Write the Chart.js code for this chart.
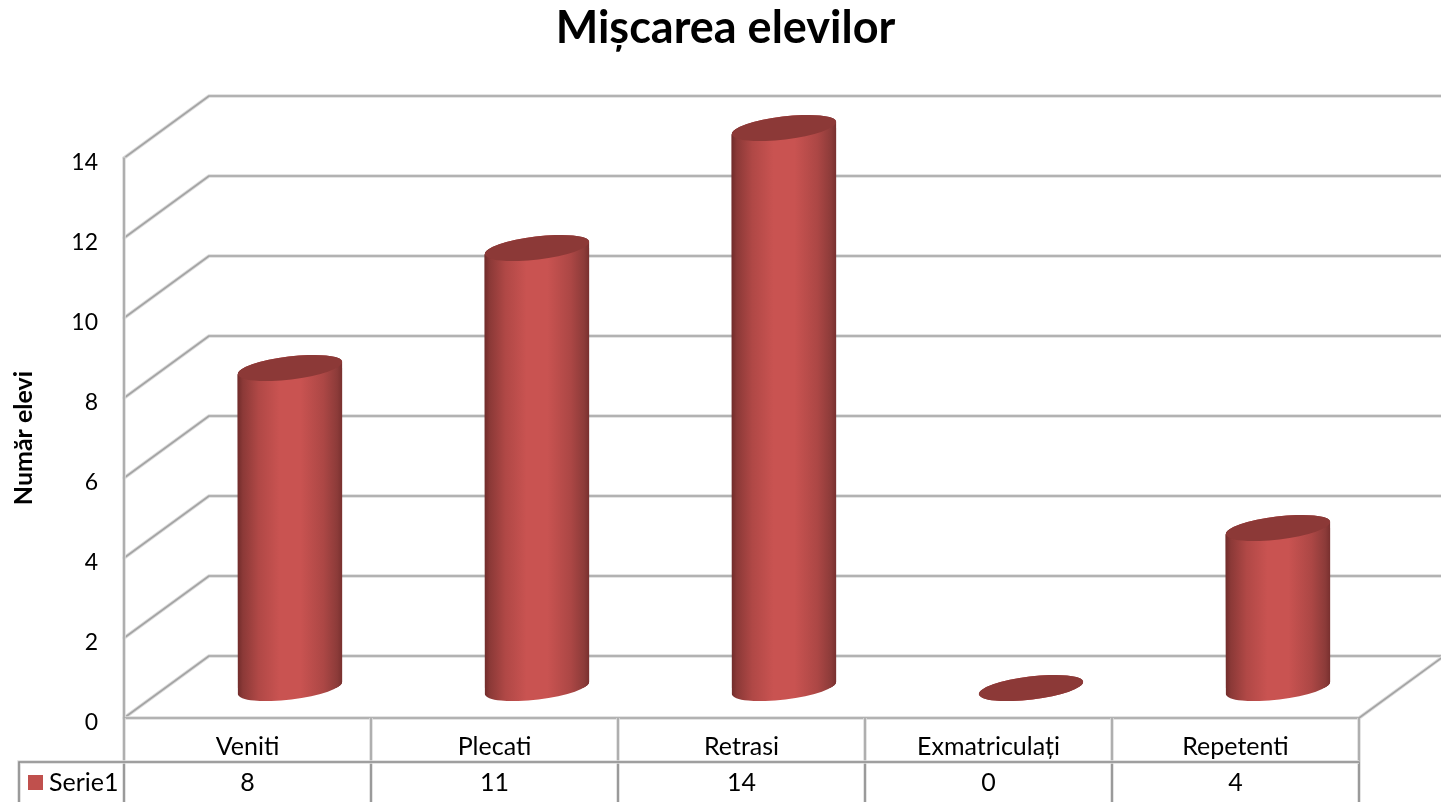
<!DOCTYPE html>
<html lang="ro">
<head>
<meta charset="utf-8">
<title>Mișcarea elevilor</title>
<script src="https://cdn.jsdelivr.net/npm/chart.js@4"></script>
<style>
  html, body { margin: 0; padding: 0; background: #fff; overflow: hidden; }
  canvas { display: block; }
</style>
</head>
<body>
<canvas id="chart" width="1441" height="802"></canvas>
<script>
// date
const categories = ['Veniti', 'Plecati', 'Retrasi', 'Exmatriculați', 'Repetenti'];
const values = [8, 11, 14, 0, 4];
const seriesName = 'Serie1';
const yTicks = [0, 2, 4, 6, 8, 10, 12, 14];

// adancimea "3D" a peretilor
const DEPTH_X = 85;
const DEPTH_Y = 62;
const FONT = 'Lato, sans-serif';
const TILT = -0.12;
const RY = 11.5;
const BAR_SHARE = 0.425;

function barGradient(ctx, cx, w) {
  const g = ctx.createLinearGradient(cx - w / 2, 0, cx + w / 2, 0);
  g.addColorStop(0, '#702b2a');
  g.addColorStop(0.05, '#8b3937');
  g.addColorStop(0.2, '#b04846');
  g.addColorStop(0.4, '#c95351');
  g.addColorStop(0.6, '#c95351');
  g.addColorStop(0.82, '#ac4745');
  g.addColorStop(0.95, '#8c3b39');
  g.addColorStop(1, '#772f2e');
  return g;
}

// conturul cilindrului: capatul de sus + capatul de jos, inclinate
function cylinderPath(ctx, bar) {
  const rx = bar.width / 2;
  ctx.moveTo(bar.x - rx, bar.y + rx * Math.sin(-TILT));
  ctx.ellipse(bar.x, bar.y, rx, RY, TILT, Math.PI, 2 * Math.PI);
  ctx.ellipse(bar.x, bar.base, rx, RY, TILT, 0, Math.PI);
  ctx.closePath();
}

function softLine(ctx, pts, dark) {
  const trace = () => {
    ctx.beginPath();
    pts.forEach((p, i) => i ? ctx.lineTo(p[0], p[1]) : ctx.moveTo(p[0], p[1]));
    ctx.stroke();
  };
  ctx.strokeStyle = '#dcdcdc';
  ctx.lineWidth = 3.5;
  trace();
  ctx.strokeStyle = dark || '#a4a4a4';
  ctx.lineWidth = 1.6;
  trace();
}

const cylinders = {
  id: 'cylinders',
  // titlul e centrat pe toata figura, nu pe zona graficului
  afterLayout(chart) {
    chart.titleBlock.left += 92;
  },
  // barele stau la jumatatea adancimii podelei
  afterDatasetsUpdate(chart) {
    chart.getDatasetMeta(0).data.forEach(el => {
      el.x += DEPTH_X / 2;
      el.y -= DEPTH_Y / 2 - 1;
      el.base -= DEPTH_Y / 2 - 1;
    });
  },
  beforeDatasetsDraw(chart) {
    const { ctx, scales: { x, y } } = chart;
    const left = x.left, right = x.right;
    ctx.save();
    ctx.lineCap = 'round';
    ctx.lineJoin = 'round';
    yTicks.forEach(v => {
      const py = y.getPixelForValue(v);
      softLine(ctx, [[left, py], [left + DEPTH_X, py - DEPTH_Y], [chart.width, py - DEPTH_Y]]);
    });
    const y0 = y.getPixelForValue(0);
    const yTop = y.getPixelForValue(14);
    softLine(ctx, [[left, yTop], [left, y0], [right, y0], [right + DEPTH_X, y0 - DEPTH_Y]]);
    ctx.restore();
  },
  beforeDatasetDraw(chart) {
    const { ctx } = chart;
    const bars = chart.getDatasetMeta(0).data;
    ctx.save();
    bars.forEach(bar => {
      ctx.beginPath();
      cylinderPath(ctx, bar);
      ctx.fillStyle = barGradient(ctx, bar.x, bar.width);
      ctx.fill();
    });
    ctx.beginPath();
    bars.forEach(bar => cylinderPath(ctx, bar));
    ctx.clip();
  },
  afterDatasetDraw(chart) {
    const { ctx } = chart;
    ctx.restore();
    chart.getDatasetMeta(0).data.forEach(bar => {
      ctx.beginPath();
      ctx.ellipse(bar.x, bar.y, bar.width / 2, RY, TILT, 0, 2 * Math.PI);
      ctx.fillStyle = '#8c3937';
      ctx.fill();
    });
  },
  // tabelul de date de sub grafic
  afterDraw(chart) {
    const { ctx, scales: { x, y } } = chart;
    const y0 = y.getPixelForValue(0);
    const rowY = y0 + 44;
    const step = (x.right - x.left) / categories.length;
    ctx.save();
    for (let i = 0; i <= categories.length; i++) {
      const px = x.left + i * step;
      softLine(ctx, [[px, y0], [px, rowY]]);
      softLine(ctx, [[px, rowY], [px, chart.height]], '#8a8a8a');
    }
    softLine(ctx, [[19, chart.height], [19, rowY], [x.right, rowY]], '#8a8a8a');

    ctx.font = '25px ' + FONT;
    ctx.fillStyle = '#000';
    ctx.textBaseline = 'middle';
    ctx.textAlign = 'center';
    values.forEach((v, i) => ctx.fillText(String(v), x.getPixelForTick(i), rowY + 21));
    ctx.textAlign = 'left';
    ctx.fillText(seriesName, 49, rowY + 21);
    ctx.fillStyle = '#c0504d';
    ctx.fillRect(28, rowY + 13, 15, 15);
    ctx.restore();
  }
};

new Chart(document.getElementById('chart'), {
  type: 'bar',
  data: {
    labels: categories,
    datasets: [{
      label: seriesName,
      data: values,
      clip: false,
      barPercentage: BAR_SHARE,
      categoryPercentage: 1,
      backgroundColor: c => {
        const x = c.chart.scales.x;
        const px = x ? x.getPixelForValue(c.dataIndex) : NaN;
        if (c.type !== 'data' || !isFinite(px) || !x.width) return '#c0504d';
        return barGradient(c.chart.ctx, px + DEPTH_X / 2, BAR_SHARE * (x.width / categories.length));
      }
    }]
  },
  options: {
    responsive: false,
    animation: false,
    layout: { padding: { top: 4, right: 82, left: 0, bottom: 0 } },
    plugins: {
      legend: { display: false },
      tooltip: { enabled: false },
      title: {
        display: true,
        text: 'Mișcarea elevilor',
        color: '#000',
        font: { family: FONT, size: 45, weight: 'bold', lineHeight: '48px' },
        padding: { top: 0, bottom: 106 }
      }
    },
    scales: {
      x: {
        grid: { display: false, drawTicks: false },
        border: { display: false },
        ticks: { color: '#000', font: { family: FONT, size: 25 }, padding: 14, maxRotation: 0, autoSkip: false },
        afterFit: s => { s.height = 84; }
      },
      y: {
        min: 0,
        max: 14,
        afterBuildTicks: s => { s.ticks = yTicks.map(v => ({ value: v })); },
        grid: { display: false, drawTicks: false },
        border: { display: false },
        ticks: { color: '#000', font: { family: FONT, size: 23 }, padding: 26, labelOffset: 5 },
        title: {
          display: true,
          text: 'Număr elevi',
          color: '#000',
          font: { family: FONT, size: 25, weight: 'bold' },
          padding: { top: 9, bottom: 0 }
        },
        afterFit: s => { s.width = 124; }
      }
    }
  },
  plugins: [cylinders]
});
</script>
</body>
</html>
